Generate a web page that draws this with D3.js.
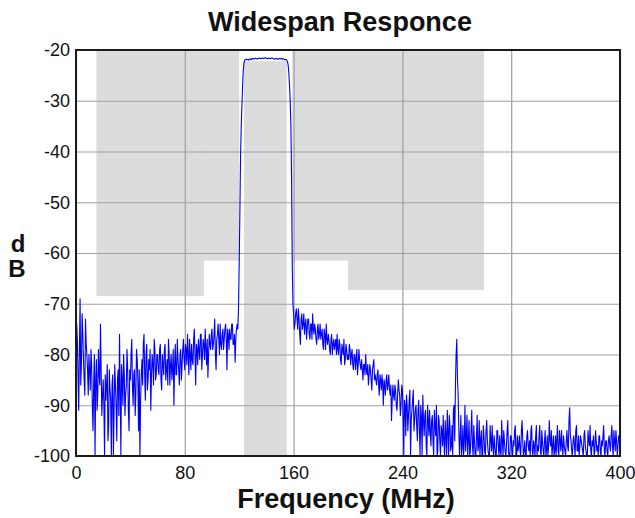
<!DOCTYPE html>
<html>
<head>
<meta charset="utf-8">
<script src="https://cdn.jsdelivr.net/npm/d3@7"></script>
<style>
  body { margin: 0; background: #fff; }
  text { font-family: "Liberation Sans", Arial, sans-serif; fill: #111; }
</style>
</head>
<body>
<div id="chart"></div>
<script>
// tick labels
var xTicks = [0, 80, 160, 240, 320, 400];
var yTicks = [-20, -30, -40, -50, -60, -70, -80, -90, -100];

// mask (forbidden zones): [f0, f1, topDb, bottomDb]
var maskZones = [
  [15, 94, -20, -68.5],
  [94, 120, -20, -61.5],
  [123.5, 155, -22.2, -100],
  [159, 200, -20, -61.5],
  [200, 300, -20, -67.3]
];

// measured response, dB, at whole MHz from 0 to 400
var responseDb = [
  -80, -77, -91, -69, -82, -76, -85, -73, -80, -88,
  -83, -79, -90, -86, -100, -81, -88, -84, -74, -92,
  -85, -100, -89, -82, -94, -87, -100, -84, -91, -86,
  -97, -83, -76, -100, -85, -80, -92, -86, -83, -95,
  -85, -77, -90, -83, -88, -81, -95, -100, -84, -86,
  -76, -89, -78, -85, -83, -91, -80, -86, -79, -84,
  -80, -84, -78, -87, -82, -79, -85, -81, -77, -86,
  -80, -83, -90, -78, -84, -81, -86, -79, -82, -77,
  -83, -79, -76, -84, -80, -78, -82, -75, -86, -79,
  -77, -81, -76, -80, -78, -75, -82, -84.5, -76, -79,
  -75, -78, -73, -83, -76, -77, -74, -79, -75, -77,
  -74, -83, -76, -75, -77, -74, -78, -81.5, -75, -75,
  -62, -41, -31, -24, -22, -21.9, -21.9, -22, -21.8, -21.9,
  -21.7, -21.8, -21.6, -21.8, -21.7, -21.6, -21.7, -21.6, -21.7, -21.5,
  -21.6, -21.7, -21.6, -21.7, -21.6, -21.7, -21.8, -21.7, -21.8, -21.7,
  -21.8, -21.7, -21.8, -21.8, -21.9, -22, -23, -27, -35, -62,
  -72, -74, -71, -75, -73, -78, -72, -74, -76, -73,
  -75, -73, -77, -74, -72, -76, -75, -78, -74, -76,
  -77, -75, -79, -76, -74, -78, -77, -80, -76, -78,
  -79, -77, -76, -80, -78, -82, -79, -77, -81, -79,
  -80, -78, -82, -79, -83, -80, -81, -84, -79, -82,
  -81, -85, -82, -80, -84, -86, -82, -85, -83, -81,
  -84, -86, -83, -88, -85, -84, -90, -86, -85, -87,
  -84, -88, -93, -86, -89, -87, -91, -85, -88, -90,
  -87, -100, -90, -88, -95, -89, -100, -91, -87, -93,
  -90, -97, -89, -100, -92, -88, -96, -91, -100, -93,
  -91, -98, -92, -100, -94, -90, -99, -93, -100, -95,
  -92, -100, -96, -91, -100, -94, -98, -100, -90, -86,
  -77, -88, -100, -92, -98, -100, -90, -96, -100, -93,
  -99, -91, -100, -97, -100, -92, -98, -100, -95, -100,
  -96, -100, -93, -99, -100, -97, -94, -100, -98, -100,
  -95, -100, -99, -93, -100, -97, -100, -95, -99, -100,
  -96, -100, -98, -94, -100, -99, -96, -100, -93, -100,
  -97, -100, -95, -99, -100, -94, -100, -98, -96, -100,
  -99, -94, -100, -97, -100, -95, -99, -100, -93, -98,
  -100, -96, -99, -100, -94, -100, -97, -95, -100, -98,
  -100, -95, -99, -90.5, -97, -100, -96, -100, -94, -99,
  -100, -96, -98, -100, -95, -99, -100, -97, -94, -100,
  -98, -100, -95, -99, -100, -96, -100, -98, -94, -100,
  -97, -100, -96, -99, -94, -100, -97, -95, -100, -96,
  -98
];

// measured response, dB, at the half-MHz points 0.5 .. 399.5
var responseDbHalf = [
  -74, -84, -79, -86, -72, -81, -88, -78, -83, -80,
  -87, -82, -95, -80, -85, -91, -79, -86, -83, -88,
  -90, -84, -86, -97, -83, -89, -86, -100, -82, -90,
  -85, -92, -87, -82, -90, -84, -88, -79, -91, -83,
  -80, -86, -84, -92, -79, -85, -83, -89, -81, -78,
  -84, -80, -87, -81, -79, -84, -82, -77, -85, -80,
  -83, -79, -85, -80, -84, -78, -83, -86, -80, -82,
  -85, -79, -82, -84, -77, -83, -80, -85, -79, -81,
  -78, -82, -80, -77, -83, -81, -77, -80, -78, -82,
  -79, -76, -83, -77, -81, -79, -77, -80, -78, -76,
  -79, -76, -80, -77, -74, -80, -78, -76, -79, -75,
  -77, -75, -79, -77, -74, -78, -76, -77, -74, -71,
  -52, -35, -27, -22.6, -21.9, -21.8, -21.9, -21.8, -21.8, -21.7,
  -21.7, -21.7, -21.7, -21.7, -21.6, -21.7, -21.6, -21.6, -21.6, -21.6,
  -21.7, -21.6, -21.7, -21.6, -21.6, -21.8, -21.7, -21.7, -21.8, -21.7,
  -21.7, -21.8, -21.7, -21.9, -21.9, -22.3, -24.5, -30, -45, -70,
  -75, -72, -73, -71, -76, -73, -75, -72, -74, -77,
  -73, -76, -74, -77, -75, -74, -77, -75, -77, -74,
  -76, -78, -75, -79, -77, -76, -79, -77, -80, -77,
  -78, -80, -79, -77, -81, -78, -80, -82, -78, -81,
  -81, -79, -80, -82, -80, -83, -79, -82, -81, -83,
  -83, -82, -84, -83, -82, -84, -83, -87, -82, -85,
  -85, -84, -86, -84, -87, -86, -85, -88, -84, -86,
  -87, -86, -89, -88, -86, -90, -88, -87, -92, -86,
  -92, -89, -96, -90, -92, -87, -93, -89, -95, -91,
  -94, -91, -95, -90, -100, -93, -92, -98, -90, -96,
  -95, -93, -97, -91, -96, -100, -92, -97, -94, -98,
  -97, -93, -100, -95, -92, -99, -94, -91, -97, -80,
  -85, -95, -96, -100, -94, -97, -99, -92, -97, -100,
  -95, -98, -94, -100, -96, -99, -93, -97, -100, -94,
  -99, -95, -97, -100, -94, -99, -98, -96, -100, -95,
  -98, -96, -100, -97, -95, -99, -98, -93, -100, -96,
  -99, -97, -95, -100, -96, -98, -99, -95, -97, -99,
  -100, -96, -98, -97, -95, -99, -97, -100, -94, -98,
  -96, -99, -95, -99, -97, -100, -96, -98, -97, -95,
  -98, -100, -96, -97, -99, -95, -99, -98, -96, -99,
  -97, -98, -93, -96, -99, -97, -98, -95, -99, -96,
  -98, -97, -99, -96, -98, -100, -95, -98, -99, -97,
  -96, -99, -97, -98, -96, -99, -97, -96, -99, -97,
  -99, -97, -98, -96, -98, -95, -99, -97, -98, -97
];

// merge both readings into one frequency-ordered trace
var trace = [];
responseDb.forEach(function(v, i) {
  trace.push({f: i, db: v});
  if (i < responseDbHalf.length) trace.push({f: i + 0.5, db: responseDbHalf[i]});
});

var margin = {top: 50, right: 15, bottom: 62, left: 76};
var width = 635 - margin.left - margin.right;
var height = 518 - margin.top - margin.bottom;

var svg = d3.select("#chart").append("svg")
  .attr("width", 635)
  .attr("height", 518);

var g = svg.append("g")
  .attr("transform", "translate(" + margin.left + "," + margin.top + ")");

var x = d3.scaleLinear().domain([0, 400]).range([0, width]);
var y = d3.scaleLinear().domain([-100, -20]).range([height, 0]);

g.append("clipPath").attr("id", "plotClip")
  .append("rect").attr("width", width).attr("height", height);

// mask
g.selectAll("rect.mask").data(maskZones).enter().append("rect")
  .attr("class", "mask")
  .attr("x", function(d) { return x(d[0]); })
  .attr("y", function(d) { return y(d[2]); })
  .attr("width", function(d) { return x(d[1]) - x(d[0]); })
  .attr("height", function(d) { return y(d[3]) - y(d[2]); })
  .attr("fill", "#dcdcdc");

// grid
var gridX = g.append("g")
  .attr("transform", "translate(0," + height + ")")
  .call(d3.axisBottom(x).tickValues(xTicks).tickSize(-height).tickFormat(""));
var gridY = g.append("g")
  .call(d3.axisLeft(y).tickValues(yTicks).tickSize(-width).tickFormat(""));
[gridX, gridY].forEach(function(gr) {
  gr.select(".domain").remove();
  gr.selectAll("line").attr("stroke", "#a0a0a0").attr("stroke-width", 1.2);
});

// trace
var line = d3.line()
  .x(function(d) { return x(d.f); })
  .y(function(d) { return y(d.db); });

g.append("path")
  .attr("d", line(trace))
  .attr("clip-path", "url(#plotClip)")
  .attr("fill", "none")
  .attr("stroke", "#0000ff")
  .attr("stroke-width", 1.1)
  .attr("stroke-linejoin", "round");

// frame
g.append("rect")
  .attr("width", width).attr("height", height)
  .attr("fill", "none")
  .attr("stroke", "#1a1a1a")
  .attr("stroke-width", 2);

// axes labels
var xAxis = g.append("g")
  .attr("transform", "translate(0," + height + ")")
  .call(d3.axisBottom(x).tickValues(xTicks).tickSize(0).tickPadding(10).tickFormat(String));
var yAxis = g.append("g")
  .call(d3.axisLeft(y).tickValues(yTicks).tickSize(0).tickPadding(6).tickFormat(String));
[xAxis, yAxis].forEach(function(ax) {
  ax.select(".domain").remove();
  ax.selectAll("text")
    .style("font-family", "'Liberation Sans', Arial, sans-serif")
    .style("font-size", "18px")
    .attr("fill", "#222");
});

svg.append("text")
  .attr("x", 340).attr("y", 31)
  .attr("text-anchor", "middle")
  .style("font-size", "27px").style("font-weight", "bold")
  .text("Widespan Responce");

svg.append("text")
  .attr("x", 346).attr("y", 508)
  .attr("text-anchor", "middle")
  .style("font-size", "27px").style("font-weight", "bold")
  .text("Frequency (MHz)");

svg.append("text")
  .attr("x", 18).attr("y", 252)
  .attr("text-anchor", "middle")
  .style("font-size", "24px").style("font-weight", "bold")
  .text("d");
svg.append("text")
  .attr("x", 17).attr("y", 277)
  .attr("text-anchor", "middle")
  .style("font-size", "24px").style("font-weight", "bold")
  .text("B");
</script>
</body>
</html>
